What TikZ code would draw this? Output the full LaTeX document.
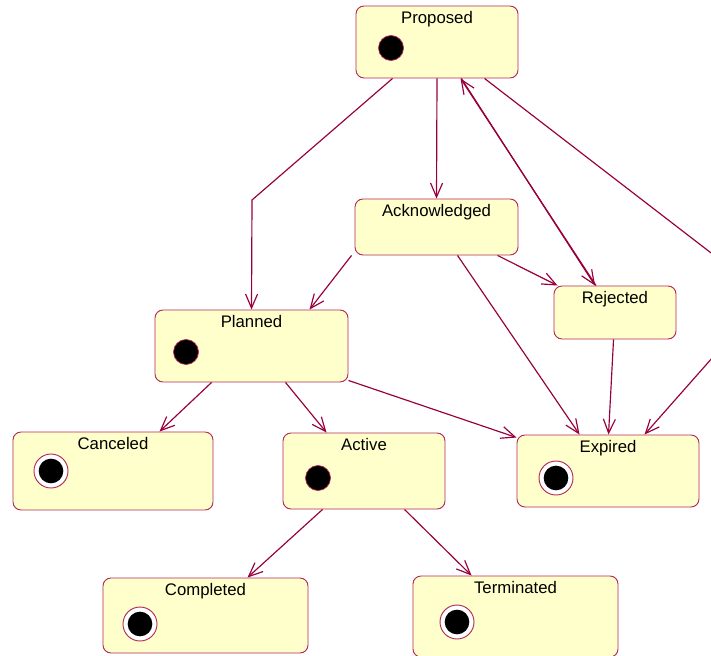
\documentclass[tikz,border=0pt]{standalone}
\usepackage{fontspec}
\setmainfont{Liberation Sans}
\usetikzlibrary{arrows.meta,calc}
\definecolor{umlline}{RGB}{150,0,60}
\definecolor{umlborder}{RGB}{180,40,90}
\definecolor{umlfill}{RGB}{255,255,204}

\begin{document}
\begin{tikzpicture}[x=0.03cm,y=-0.03cm,
  statebox/.style={draw=umlborder, fill=umlfill, rounded corners=0.24cm, line width=0.8pt, inner sep=0pt},
  statename/.style={anchor=north, inner sep=0pt, yshift=-4.5pt, font=\fontsize{14.3}{17}\selectfont},
  initdot/.style={circle, draw=umlborder, fill=black, minimum size=0.75cm, inner sep=0pt, line width=0.6pt},
  finaldot/.style={circle, draw=umlborder, fill=white, minimum size=1.02cm, inner sep=0pt, line width=0.8pt,
    path picture={\fill[black] (path picture bounding box.center) circle (0.37cm);}},
  trans/.style={draw=umlline, line width=1pt, -{Straight Barb[length=0.42cm,width=0.36cm]}}]
\useasboundingbox (0,0) rectangle (711,656);
\clip (0,0) rectangle (711,656);

% States
\node[statebox, minimum width=4.86cm, minimum height=2.16cm, label={[statename]north:Proposed}] (proposed) at (437,42) {};
\node[statebox, minimum width=4.89cm, minimum height=1.68cm, label={[statename]north:Acknowledged}] (acknowledged) at (436.5,227) {};
\node[statebox, minimum width=3.66cm, minimum height=1.59cm, label={[statename]north:Rejected}] (rejected) at (615,312.5) {};
\node[statebox, minimum width=5.79cm, minimum height=2.16cm, label={[statename]north:Planned}] (planned) at (251.5,346) {};
\node[statebox, minimum width=6.00cm, minimum height=2.34cm, label={[statename]north:Canceled}] (canceled) at (113,471) {};
\node[statebox, minimum width=4.86cm, minimum height=2.28cm, label={[statename]north:Active}] (active) at (364,471) {};
\node[statebox, minimum width=5.46cm, minimum height=2.16cm, label={[statename]north:Expired}] (expired) at (608,471) {};
\node[statebox, minimum width=6.15cm, minimum height=2.25cm, label={[statename]north:Completed}] (completed) at (205.5,615.5) {};
\node[statebox, minimum width=6.15cm, minimum height=2.43cm, label={[statename]north:Terminated}] (terminated) at (515.5,616.5) {};

% Initial and final marks
\node[initdot] (proposed-init) at (391,48) {};
\node[initdot] (planned-init) at (186,352) {};
\node[initdot] (active-init) at (318,478) {};
\node[finaldot] (canceled-final) at (51,471) {};
\node[finaldot] (expired-final) at (556,478) {};
\node[finaldot] (completed-final) at (140,624) {};
\node[finaldot] (terminated-final) at (457,622) {};

% Bend points
\coordinate (plan-bend) at (252,200);
\coordinate (right-top) at (728,266);
\coordinate (right-bot) at (728,340);

% Transitions
\draw[trans] ($(proposed.south west)+(37,0)$) -- (plan-bend) -- (planned.north);
\draw[trans] (proposed.south) -- (acknowledged.north);
\draw[trans] ($(proposed.south west)+(129,0)$) -- (right-top) -- (right-bot) -- ($(expired.north west)+(128,0)$);
\draw[trans] ($(rejected.north west)+(42.5,0)$) -- ($(proposed.south west)+(105,0)$);
\draw[trans] ($(proposed.south west)+(105.8,0)$) -- ($(rejected.north west)+(41.5,0)$);
\draw[trans] ($(acknowledged.south west)+(143,0)$) -- ($(rejected.north west)+(4,0)$);
\draw[trans] ($(acknowledged.south west)+(-3,0)$) -- ($(planned.north west)+(155,0)$);
\draw[trans] ($(acknowledged.south west)+(103,0)$) -- ($(expired.north west)+(63,0)$);
\draw[trans] ($(rejected.south west)+(60,0)$) -- ($(expired.north west)+(92,0)$);
\draw[trans] ($(planned.south east)+(0,-2)$) -- ($(expired.north west)+(0,3)$);
\draw[trans] ($(planned.south west)+(57,0)$) -- ($(canceled.north west)+(147,0)$);
\draw[trans] ($(planned.south west)+(131,0)$) -- ($(active.north west)+(44,0)$);
\draw[trans] ($(active.south west)+(40,0)$) -- ($(completed.north west)+(145,0)$);
\draw[trans] ($(active.south west)+(122,0)$) -- ($(terminated.north west)+(59,0)$);
\end{tikzpicture}
\end{document}
